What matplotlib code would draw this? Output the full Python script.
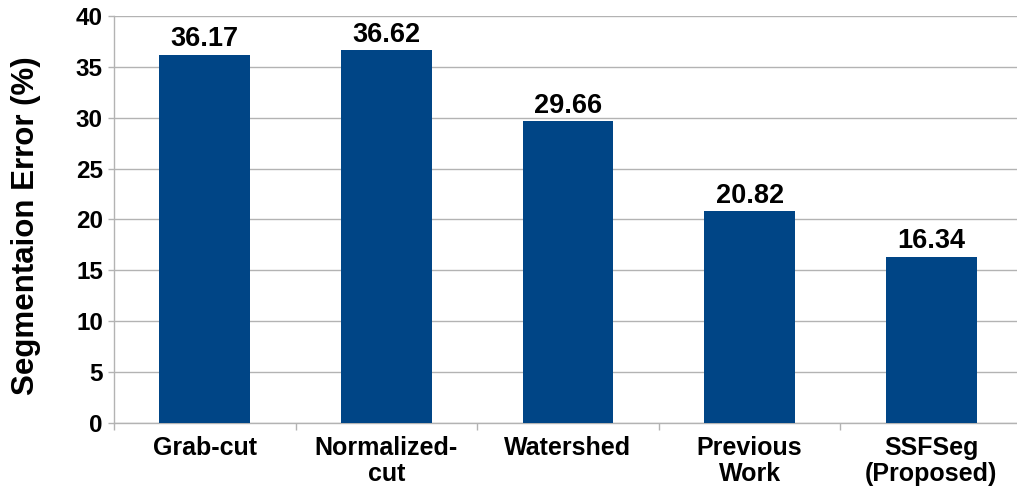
import matplotlib
matplotlib.use("Agg")
import matplotlib.pyplot as plt
from matplotlib.ticker import MultipleLocator, FixedLocator

methods = ["Grab-cut", "Normalized-\ncut", "Watershed", "Previous\nWork", "SSFSeg\n(Proposed)"]
errors = [36.17, 36.62, 29.66, 20.82, 16.34]
value_labels = ["36.17", "36.62", "29.66", "20.82", "16.34"]

plt.rcParams["font.family"] = ["Liberation Sans", "DejaVu Sans"]
plt.rcParams["font.weight"] = "bold"

W, H = 1017, 486
fig = plt.figure(figsize=(W / 100, H / 100), dpi=100)
left, right, top, bottom = 114, 1022, 16, 423
ax = fig.add_axes([left / W, 1 - bottom / H, (right - left) / W, (bottom - top) / H])

bar_color = "#004586"
grid_color = "#b3b3b3"

x = list(range(len(methods)))
ax.bar(x, errors, width=0.5, color=bar_color, zorder=3)
for xi, v, lbl in zip(x, errors, value_labels):
    ax.text(xi, v + 0.25, lbl, ha="center", va="bottom", fontsize=19.5, fontweight="bold", color="black")

ax.set_xlim(-0.5, len(methods) - 0.5)
ax.set_ylim(0, 40)
ax.yaxis.set_major_locator(MultipleLocator(5))
ax.yaxis.grid(True, color=grid_color, linewidth=1.0, zorder=0)

ax.set_xticks(x)
ax.set_xticklabels(methods, fontsize=18, fontweight="bold", linespacing=1.15)
ax.tick_params(axis="x", length=0, pad=9)
ax.xaxis.set_minor_locator(FixedLocator([i + 0.5 for i in range(len(methods) - 1)] + [-0.5]))
ax.tick_params(axis="x", which="minor", length=5, color=grid_color, width=1)
ax.tick_params(axis="y", length=4, color=grid_color, width=1, labelsize=17.5, pad=4)
for lab in ax.get_yticklabels():
    lab.set_fontweight("bold")

for s in ["top", "right"]:
    ax.spines[s].set_visible(False)
for s in ["left", "bottom"]:
    ax.spines[s].set_color(grid_color)
    ax.spines[s].set_linewidth(1.0)

ax.set_ylabel("Segmentaion Error (%)", fontsize=22.5, fontweight="bold")
ax.yaxis.set_label_coords(-0.0805, 0.484)

fig.savefig("out.png", dpi=100)
